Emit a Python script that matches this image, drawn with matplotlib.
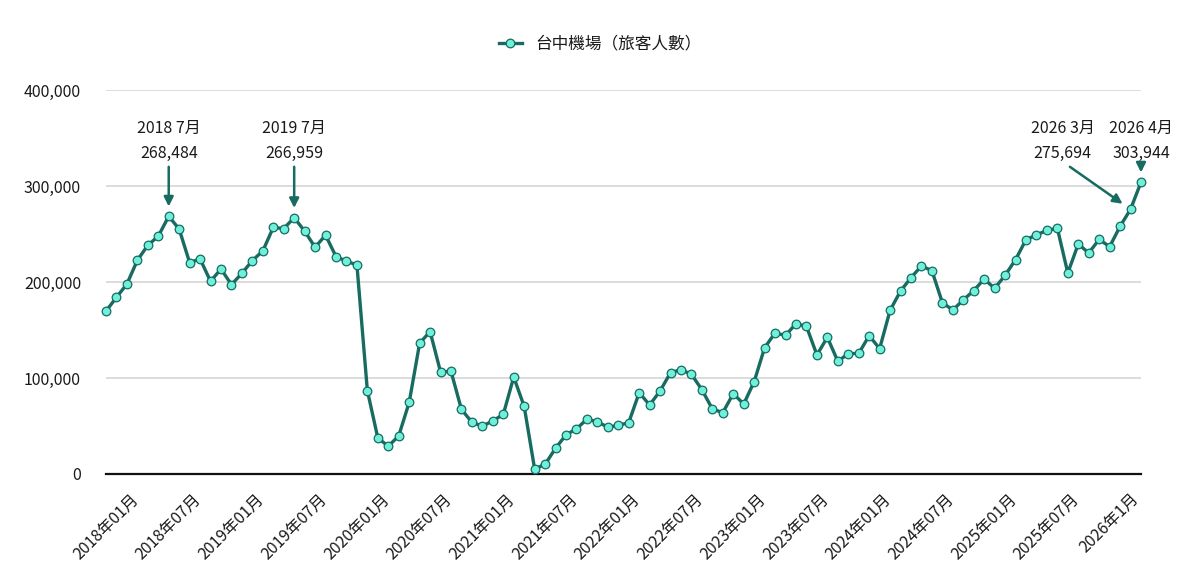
import matplotlib
matplotlib.use("Agg")
import matplotlib.pyplot as plt
from matplotlib.ticker import FuncFormatter, MultipleLocator

plt.rcParams['font.family'] = ['Noto Sans CJK TC', 'DejaVu Sans']

# ---- data (monthly passengers, 2018-01 .. 2026-04) ----
years_start = 2018
passengers = [
    169700, 184000, 197900, 222600, 238300, 247700, 268484, 255100, 220200, 224000, 200700, 213600,  # 2018
    197200, 209100, 222300, 232400, 256800, 255700, 266959, 253000, 236200, 248800, 226500, 221600,  # 2019
    217800, 86800, 37600, 28900, 39700, 74600, 136200, 148400, 106300, 107000, 67200, 54000,  # 2020
    49800, 55400, 62000, 101000, 70400, 5200, 10100, 26800, 40800, 47000, 57100, 54400,  # 2021
    48800, 50600, 53500, 84700, 71900, 86500, 105600, 108700, 103800, 87800, 67700, 63900,  # 2022
    83700, 72900, 96200, 131600, 146900, 144400, 156600, 153800, 124000, 142400, 117400, 125300,  # 2023
    125700, 144100, 130600, 170500, 190600, 204500, 216700, 211800, 178500, 170800, 181300, 191000,  # 2024
    203100, 193400, 206900, 223300, 244100, 249000, 253800, 255900, 209400, 239600, 230200, 244400,  # 2025
    236800, 258000, 275694, 303944,  # 2026
]
tick_labels = ['2018年01月', '2018年07月', '2019年01月', '2019年07月', '2020年01月',
               '2020年07月', '2021年01月', '2021年07月', '2022年01月', '2022年07月',
               '2023年01月', '2023年07月', '2024年01月', '2024年07月', '2025年01月',
               '2025年07月', '2026年1月']
series_name = '台中機場（旅客人數）'
annot_labels = ['2018 7月', '2019 7月', '2026 3月', '2026 4月']
annot_index = [6, 18, 98, 99]

line_color = '#176b60'
face_color = '#6ff0da'
text_color = '#1a1a1a'

fig = plt.figure(figsize=(12, 5.86), dpi=100)
ax = fig.add_axes([106 / 1200, 1 - 474 / 586, (1141 - 106) / 1200, (474 - 90) / 586])

x = list(range(len(passengers)))
ax.plot(x, passengers, color=line_color, lw=2.4, marker='o', ms=6.2,
        mfc=face_color, mec=line_color, mew=0.9, clip_on=False, zorder=3,
        label=series_name)

ax.set_xlim(0, len(passengers) - 1)
ax.set_ylim(0, 400000)
ax.yaxis.set_major_locator(MultipleLocator(100000))
ax.yaxis.set_major_formatter(FuncFormatter(lambda v, p: f'{int(v):,}'))
ax.set_xticks(list(range(0, 6 * len(tick_labels), 6)))
ax.set_xticklabels(tick_labels, rotation=45, ha='center', va='top')
ax.tick_params(axis='both', length=0, labelsize=11.5, colors=text_color)
ax.tick_params(axis='x', pad=12)
ax.tick_params(axis='y', pad=18)
ax.grid(axis='y', color='#d6d6d6', lw=1.2)
ax.set_axisbelow(True)
for s in ['top', 'right', 'left']:
    ax.spines[s].set_visible(False)
ax.spines['bottom'].set_color('#111111')
ax.spines['bottom'].set_linewidth(1.6)
ax.spines['bottom'].set_zorder(2.5)

# annotations
text_y = 347000
arrow_start_y = 320000
for lab, i in zip(annot_labels, annot_index):
    v = passengers[i]
    if i == 98:
        tx, sx = i - 6.5, i - 5.8
    else:
        tx, sx = i, i
    ax.annotate(f'{lab}\n{v:,}', xy=(tx, text_y), ha='center', va='center',
                fontsize=11.5, color=text_color, linespacing=1.55,
                annotation_clip=False)
    ax.annotate('', xy=(i, v), xytext=(sx, arrow_start_y),
                arrowprops=dict(arrowstyle='-|>', color=line_color, lw=1.8,
                                mutation_scale=14, shrinkA=0, shrinkB=7),
                annotation_clip=False)

fig.legend(loc='center', bbox_to_anchor=(0.5, 1 - 44 / 586), frameon=False,
           fontsize=12, handlelength=1.4, labelcolor=text_color)

fig.savefig('out.png', dpi=100)
